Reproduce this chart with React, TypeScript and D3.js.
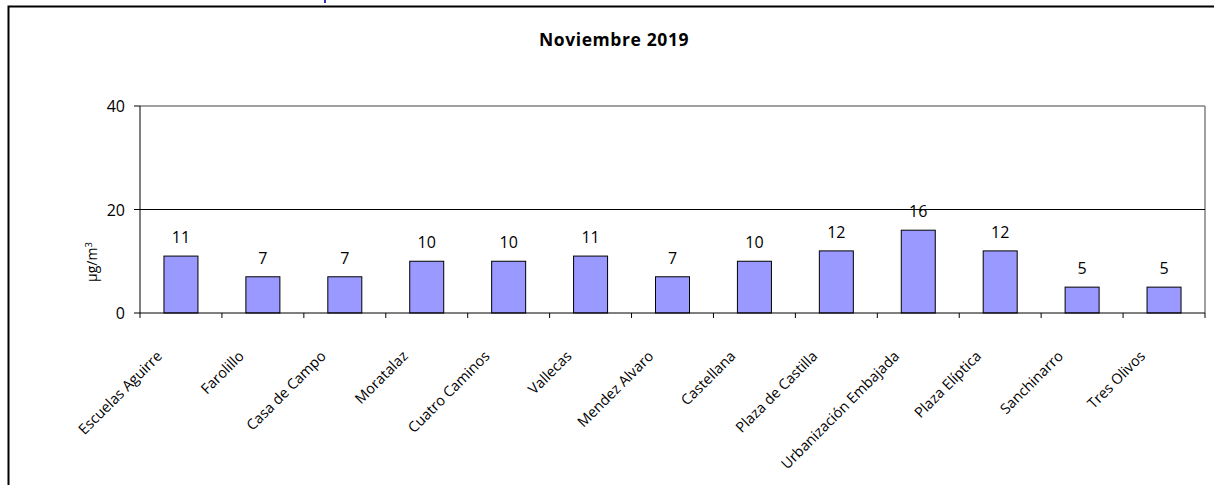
import React from "react";
import * as d3 from "d3";

const categories = [
  "Escuelas Aguirre", "Farolillo", "Casa de Campo", "Moratalaz", "Cuatro Caminos",
  "Vallecas", "Mendez Alvaro", "Castellana", "Plaza de Castilla", "Urbanización Embajada",
  "Plaza Elíptica", "Sanchinarro", "Tres Olivos",
];
const values = [11, 7, 7, 10, 10, 11, 7, 10, 12, 16, 12, 5, 5];
const yTicks = [0, 20, 40];
const title = "Noviembre 2019";

const W = 1214, H = 485;
const plot = { left: 140, right: 1205, top: 106, bottom: 313 };
const FONT = "'Open Sans', Lato, sans-serif";

export default function App() {
  const x = d3.scaleBand<string>().domain(categories).range([plot.left, plot.right]).paddingInner(0).paddingOuter(0);
  const y = d3.scaleLinear().domain([0, 40]).range([plot.bottom, plot.top]);
  const bw = x.bandwidth() * 0.415;
  return (
    <svg width={W} height={H} style={{ position: "absolute", left: 0, top: 0 }} fontFamily={FONT}>
      <rect x={0} y={0} width={W} height={H} fill="#fff" />
      <rect x={324} y={0} width={2} height={3} fill="#3030c0" />
      <rect x={8.5} y={6.5} width={W + 10} height={H + 10} fill="none" stroke="#000" strokeWidth={2} />
      <text x={614} y={46} textAnchor="middle" fontWeight="bold" fontSize={17.5} letterSpacing={0.6} fill="#000">{title}</text>
      {/* plot frame */}
      <line x1={plot.left} x2={plot.right} y1={plot.top} y2={plot.top} stroke="#808080" strokeWidth={1.5} />
      <line x1={plot.right} x2={plot.right} y1={plot.top} y2={plot.bottom} stroke="#808080" strokeWidth={1.5} />
      {yTicks.filter(t => t > 0 && t < 40).map(t => (
        <line key={t} x1={plot.left} x2={plot.right} y1={y(t)} y2={y(t)} stroke="#000" strokeWidth={1} />
      ))}
      {categories.map((c, i) => (
        <g key={c}>
          <rect x={x(c)! + x.bandwidth() / 2 - bw / 2} y={y(values[i])} width={bw} height={y(0) - y(values[i])}
            fill="#9999ff" stroke="#000" strokeWidth={1} />
          <text x={x(c)! + x.bandwidth() / 2} y={y(values[i]) - 13} textAnchor="middle" fontSize={16} fill="#000">{values[i]}</text>
        </g>
      ))}
      {/* axes */}
      <line x1={plot.left} x2={plot.left} y1={plot.top} y2={plot.bottom} stroke="#000" strokeWidth={1} />
      <line x1={plot.left} x2={plot.right} y1={plot.bottom} y2={plot.bottom} stroke="#000" strokeWidth={1} />
      {yTicks.map(t => (
        <g key={t}>
          <line x1={plot.left - 6} x2={plot.left} y1={y(t)} y2={y(t)} stroke="#000" />
          <text x={plot.left - 15} y={y(t) + 6} textAnchor="end" fontSize={16} fill="#000">{t}</text>
        </g>
      ))}
      {categories.map(c => (
        <line key={"t" + c} x1={x(c)!} x2={x(c)!} y1={plot.bottom} y2={plot.bottom + 5} stroke="#000" />
      ))}
      <line x1={plot.right} x2={plot.right} y1={plot.bottom} y2={plot.bottom + 5} stroke="#000" />
      {categories.map(c => {
        const cx = x(c)! + x.bandwidth() / 2 - 18;
        const cy = 357;
        return (
          <text key={"l" + c} x={cx} y={cy} textAnchor="end" fontSize={14.5} fill="#000"
            transform={`rotate(-45, ${cx}, ${cy})`}>{c}</text>
        );
      })}
      <text transform={`translate(97, 262) rotate(-90)`} textAnchor="middle" fontSize={14} fill="#000">
        µg/m<tspan dy={-5} fontSize={9.5}>3</tspan>
      </text>
    </svg>
  );
}
